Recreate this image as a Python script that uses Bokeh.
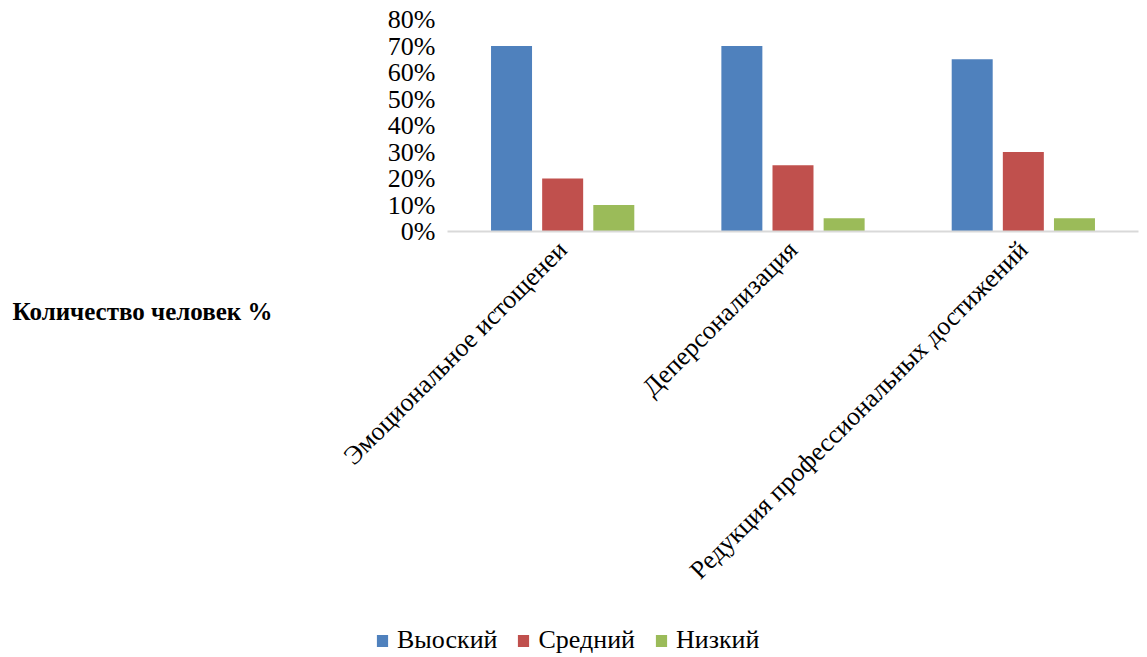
from bokeh.plotting import figure
from bokeh.layouts import column, row
from bokeh.models import (ColumnDataSource, FactorRange, Range1d, FixedTicker,
                          NumeralTickFormatter, Legend, LegendItem)
from bokeh.transform import dodge
from bokeh.embed import file_html
from bokeh.resources import INLINE
import math

categories = ["Эмоциональное истощенеи", "Деперсонализация", "Редукция профессиональных достижений"]
series_names = ["Выоский", "Средний", "Низкий"]
high = [0.70, 0.70, 0.65]
medium = [0.20, 0.25, 0.30]
low = [0.10, 0.05, 0.05]
y_ticks = [0.0, 0.1, 0.2, 0.3, 0.4, 0.5, 0.6, 0.7, 0.8]
colors = ["#4F81BD", "#C0504D", "#9BBB59"]
title_text = "Количество человек %"

FONT = "Liberation Serif"
LEFT_W = 284
TOP_H = 610
W = 1147
H = 657

source = ColumnDataSource(data=dict(cat=categories, high=high, medium=medium, low=low))
cols = ["high", "medium", "low"]
offsets = [-0.222, 0.0, 0.222]

# main chart
p = figure(width=W - LEFT_W, height=TOP_H, x_range=FactorRange(*categories),
           y_range=Range1d(0, 0.8), output_backend="svg", toolbar_location=None,
           min_border_left=447 - LEFT_W, min_border_right=9, min_border_top=19,
           min_border_bottom=TOP_H - 231)
p.outline_line_color = None
p.xgrid.visible = False
p.ygrid.visible = False
p.x_range.range_padding = 0

for col, off, c in zip(cols, offsets, colors):
    p.vbar(x=dodge("cat", off, range=p.x_range), top=col, width=0.178,
           source=source, fill_color=c, line_color=None)

p.yaxis.ticker = FixedTicker(ticks=y_ticks)
p.yaxis.formatter = NumeralTickFormatter(format="0%")
p.yaxis.axis_line_color = None
p.yaxis.major_tick_line_color = None
p.yaxis.minor_tick_line_color = None
p.yaxis.major_label_text_font = FONT
p.yaxis.major_label_text_font_size = "26px"
p.yaxis.major_label_text_color = "#000000"
p.yaxis.major_label_standoff = 6

p.xaxis.axis_line_color = "#D9D9D9"
p.xaxis.axis_line_width = 2
p.xaxis.major_tick_line_color = None
p.xaxis.minor_tick_line_color = None
p.xaxis.major_label_orientation = math.pi / 4
p.xaxis.major_label_text_font = FONT
p.xaxis.major_label_text_font_size = "26px"
p.xaxis.major_label_text_color = "#000000"
p.xaxis.major_label_standoff = 8

# left panel: the title is drawn as the axis label of an empty axis
t = figure(width=LEFT_W, height=TOP_H, x_range=Range1d(0, 1), y_range=Range1d(0, 1),
           output_backend="svg", toolbar_location=None, y_axis_type=None,
           min_border_left=0, min_border_right=0, min_border_top=19,
           min_border_bottom=TOP_H - 231)
t.outline_line_color = None
t.xgrid.visible = False
t.ygrid.visible = False
t.xaxis.ticker = FixedTicker(ticks=[])
t.xaxis.axis_line_color = None
t.xaxis.major_tick_line_color = None
t.xaxis.minor_tick_line_color = None
t.xaxis.axis_label = title_text
t.xaxis.axis_label_text_font = FONT
t.xaxis.axis_label_text_font_size = "25px"
t.xaxis.axis_label_text_font_style = "bold"
t.xaxis.axis_label_text_color = "#000000"
t.xaxis.axis_label_standoff = 66

# bottom strip with the legend (bars kept out of view, only legend swatches show)
lg = figure(width=W, height=H - TOP_H, x_range=FactorRange(*categories), y_range=Range1d(10, 11),
            output_backend="svg", toolbar_location=None, x_axis_type=None, y_axis_type=None,
            min_border=0)
lg.outline_line_color = None
lg.xgrid.visible = False
lg.ygrid.visible = False
rs = [lg.vbar(x="cat", top=col, width=0.1, source=source, fill_color=c, line_color=None)
      for col, c in zip(cols, colors)]
legend = Legend(items=[LegendItem(label=n, renderers=[r]) for n, r in zip(series_names, rs)],
                orientation="horizontal", location=(375, 2),
                label_text_font=FONT, label_text_font_size="26px", label_text_color="#000000",
                glyph_width=14, glyph_height=15, spacing=19, label_standoff=8,
                padding=0, margin=0, border_line_color=None, background_fill_alpha=0)
lg.add_layout(legend, "center")

layout = column(row(t, p), lg)
open("out.html", "w").write(file_html(layout, INLINE))
